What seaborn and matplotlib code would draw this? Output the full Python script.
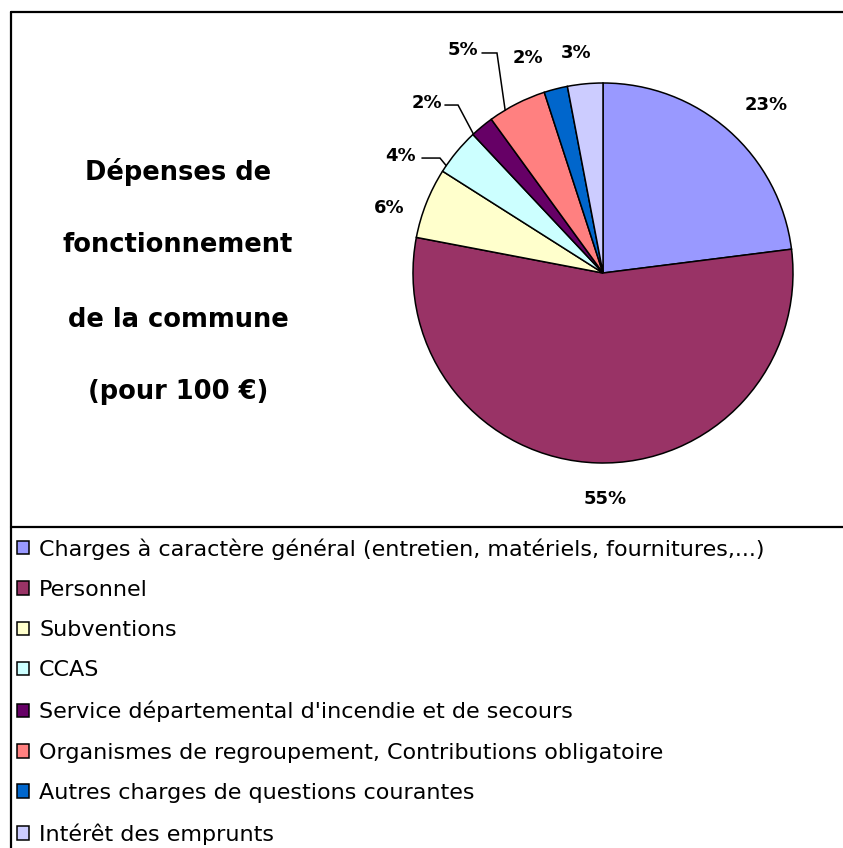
import matplotlib
matplotlib.use("Agg")
import matplotlib.pyplot as plt
from matplotlib.lines import Line2D
import numpy as np
import seaborn as sns

# ---- data ----
categories = [
    "Charges à caractère général (entretien, matériels, fournitures,...)",
    "Personnel",
    "Subventions",
    "CCAS",
    "Service départemental d'incendie et de secours",
    "Organismes de regroupement, Contributions obligatoire",
    "Autres charges de questions courantes",
    "Intérêt des emprunts",
]
values = [23, 55, 6, 4, 2, 5, 2, 3]
colors = ["#9999FF", "#993366", "#FFFFCC", "#CCFFFF", "#660066", "#FF8080", "#0066CC", "#CCCCFF"]
title_lines = ["Dépenses de", "fonctionnement", "de la commune", "(pour 100 €)"]

# ---- style ----
sns.set_theme(style="white")
plt.rcParams["font.family"] = ["DejaVu Sans"]
palette = sns.color_palette(colors)

W, H = 843, 848
fig = plt.figure(figsize=(W / 100, H / 100), dpi=100)
fig.patch.set_facecolor("white")

def fx(px):
    return px / W

def fy(py):
    return 1 - py / H

# pie axes (center 603,273 radius 190 px)
cx, cy, r = 603, 273, 190
ax = fig.add_axes([fx(cx - r), fy(cy + r), 2 * r / W, 2 * r / H])
wedges, _ = ax.pie(values, colors=palette, startangle=90, counterclock=False,
                   wedgeprops=dict(edgecolor="black", linewidth=1.1))
ax.set_xlim(-1, 1)
ax.set_ylim(-1, 1)
ax.set_aspect("equal")
ax.axis("off")

# label layout (text position in pie units), optional leader (start, corner, edge angle)
label_pos = [(0.858, 0.884), (0.011, -1.189), (-1.126, 0.342), (-1.068, 0.616),
             (-0.926, 0.895), (-0.737, 1.174), (-0.395, 1.132), (-0.142, 1.158)]
leaders = {
    3: ((-0.953, 0.605), (-0.858, 0.605), 145.6),
    4: ((-0.832, 0.884), (-0.763, 0.884), 133.0),
    5: ((-0.637, 1.158), (-0.558, 1.158), 121.0),
}
for i, (v, (lx, ly)) in enumerate(zip(values, label_pos)):
    ax.text(lx, ly, f"{v}%", ha="center", va="center", fontsize=13,
            fontweight="bold", color="black", clip_on=False)
    if i in leaders:
        (sx, sy), (kx, ky), ang = leaders[i]
        ex, ey = np.cos(np.radians(ang)), np.sin(np.radians(ang))
        ax.plot([sx, kx, ex], [sy, ky, ey], color="black", lw=1.1,
                clip_on=False, solid_joinstyle="miter")

# title text
for t, py in zip(title_lines, [172, 245, 320, 392]):
    fig.text(fx(178), fy(py), t, ha="center", va="center", fontsize=18.5,
             fontweight="bold", color="black")

# borders
for xs, ys in [([11, 843], [12, 12]), ([11, 11], [12, 848]), ([11, 843], [527, 527])]:
    fig.add_artist(Line2D([fx(x) for x in xs], [fy(y) for y in ys],
                          color="black", lw=1.6, transform=fig.transFigure))

# legend
fs = 16
fig.legend(wedges, categories, loc="upper left",
           bbox_to_anchor=(fx(17), fy(538)), frameon=False, fontsize=fs,
           handlelength=0.55, handleheight=0.55, handletextpad=0.45,
           labelspacing=0.915, borderpad=0, borderaxespad=0, labelcolor="black")

fig.savefig("out.png", dpi=100, facecolor="white")
